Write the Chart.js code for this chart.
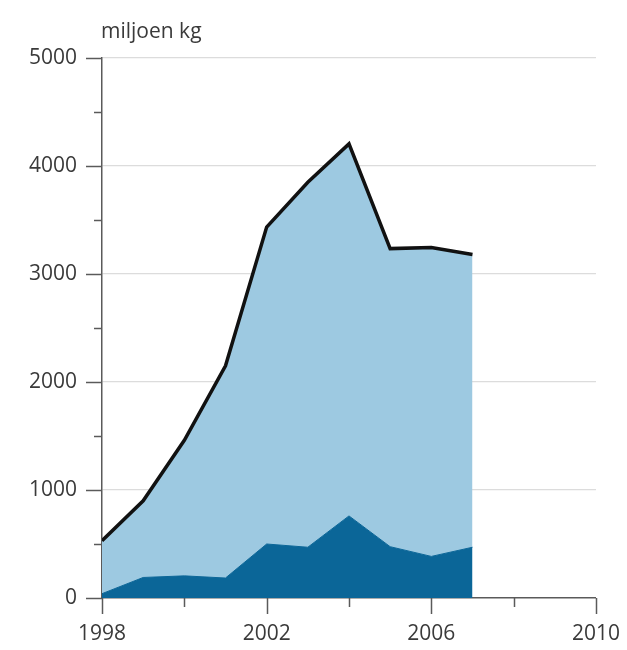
<!DOCTYPE html>
<html>
<head>
<meta charset="utf-8">
<script src="https://cdn.jsdelivr.net/npm/chart.js@4.4.1/dist/chart.umd.min.js"></script>
<style>
  html, body { margin: 0; padding: 0; background: #fff; }
  #wrap { width: 627px; height: 650px; position: relative; }
</style>
</head>
<body>
<div id="wrap"><canvas id="c" width="627" height="650"></canvas></div>
<script>
const years = [1998, 1999, 2000, 2001, 2002, 2003, 2004, 2005, 2006, 2007];
const darkValues = [40, 190, 205, 185, 500, 470, 760, 475, 385, 470];
const totalValues = [530, 900, 1460, 2150, 3435, 3850, 4205, 3235, 3245, 3180];
const yTickLabels = [0, 1000, 2000, 3000, 4000, 5000];
const xTickLabels = [1998, 2002, 2006, 2010];
const unitLabel = 'miljoen kg';

const FONT = '"Open Sans", "DejaVu Sans", sans-serif';
const TEXT = '#3a3a3a';
const AXIS = '#5a5a5a';

const tickPlugin = {
  id: 'customTicks',
  afterDraw(chart) {
    const ctx = chart.ctx;
    const xs = chart.scales.x, ys = chart.scales.y;
    const left = chart.chartArea.left, bottom = chart.chartArea.bottom;
    ctx.save();
    ctx.strokeStyle = AXIS;
    ctx.lineWidth = 1.5;
    for (let v = 0; v <= 5000; v += 500) {
      const y = Math.round(ys.getPixelForValue(v)) + 0.5;
      const len = (v % 1000 === 0) ? 16 : 8;
      ctx.beginPath(); ctx.moveTo(left - len, y); ctx.lineTo(left, y); ctx.stroke();
    }
    for (let v = 1998; v <= 2010; v += 2) {
      const x = Math.round(xs.getPixelForValue(v)) + 0.5;
      const len = ((v - 1998) % 4 === 0) ? 16 : 9;
      ctx.beginPath(); ctx.moveTo(x, bottom); ctx.lineTo(x, bottom + len); ctx.stroke();
    }
    ctx.fillStyle = TEXT;
    ctx.font = '21px ' + FONT;
    ctx.textAlign = 'left';
    ctx.textBaseline = 'alphabetic';
    ctx.fillText(unitLabel, left - 1, 38);
    ctx.restore();
  }
};

new Chart(document.getElementById('c'), {
  type: 'line',
  data: {
    datasets: [
      {
        data: years.map((y, i) => ({ x: y, y: darkValues[i] })),
        backgroundColor: '#0b6698',
        borderColor: '#0b6698',
        borderWidth: 1,
        pointRadius: 0,
        fill: 'origin',
        tension: 0
      },
      {
        data: years.map((y, i) => ({ x: y, y: totalValues[i] })),
        backgroundColor: '#9dc9e1',
        borderColor: '#111',
        borderWidth: 3.5,
        pointRadius: 0,
        fill: '-1',
        tension: 0,
        borderJoinStyle: 'miter'
      }
    ]
  },
  options: {
    responsive: false,
    animation: false,
    devicePixelRatio: 1,
    layout: { padding: { top: 58, right: 29, left: 0, bottom: 0 } },
    plugins: { legend: { display: false }, tooltip: { enabled: false }, title: { display: false } },
    scales: {
      x: {
        type: 'linear',
        min: 1998, max: 2010,
        afterFit: s => { s.height = 52; },
        afterBuildTicks: s => { s.ticks = xTickLabels.map(v => ({ value: v })); },
        ticks: { color: TEXT, font: { family: FONT, size: 21 }, padding: 7, maxRotation: 0, callback: v => String(v) },
        grid: { drawOnChartArea: false, drawTicks: true, tickLength: 16, tickColor: 'rgba(0,0,0,0)' },
        border: { display: true, color: AXIS, width: 1.5 }
      },
      y: {
        min: 0, max: 5000,
        afterFit: s => { s.width = 102; },
        afterBuildTicks: s => { s.ticks = yTickLabels.map(v => ({ value: v })); },
        ticks: { color: TEXT, font: { family: FONT, size: 21 }, padding: 9, callback: v => String(v) },
        grid: {
          drawTicks: true, tickLength: 16, tickColor: 'rgba(0,0,0,0)',
          color: ctx => (ctx.tick && ctx.tick.value === 0) ? 'rgba(0,0,0,0)' : '#dcdcdc',
          lineWidth: 1.2
        },
        border: { display: true, color: AXIS, width: 1.5 }
      }
    }
  },
  plugins: [tickPlugin]
});
</script>
</body>
</html>
